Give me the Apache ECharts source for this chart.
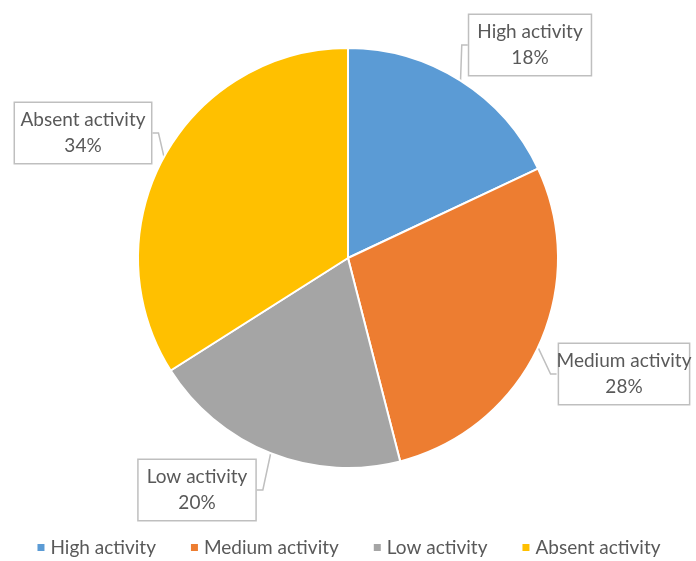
<!DOCTYPE html>
<html>
<head>
<meta charset="utf-8">
<script src="https://cdn.jsdelivr.net/npm/echarts@6/dist/echarts.min.js"></script>
<style>
  html, body { margin: 0; padding: 0; background: #fff; }
  #chart { width: 696px; height: 561px; }
</style>
</head>
<body>
<div id="chart"></div>
<script>
// Share of activity levels
const categories = ['High activity', 'Medium activity', 'Low activity', 'Absent activity'];
const shares = [18, 28, 20, 34];
const colors = ['#5B9BD5', '#ED7D31', '#A5A5A5', '#FFC000'];

// Callout box centres for each slice label
const calloutCentres = [[530, 45], [624, 374], [197, 490], [83, 133]];

const chart = echarts.init(document.getElementById('chart'));
const font = 'Lato, "Open Sans", sans-serif';

chart.setOption({
  animation: false,
  color: colors,
  legend: {
    top: 538,
    left: 'center',
    padding: 0,
    icon: 'rect',
    itemWidth: 9,
    itemHeight: 9,
    itemGap: 33,
    textStyle: { fontFamily: font, fontSize: 19, color: '#595959' },
    data: categories
  },
  series: [{
    type: 'pie',
    center: [348, 258],
    radius: 210,
    startAngle: 90,
    clockwise: true,
    data: categories.map((name, i) => ({ name, value: shares[i] })),
    itemStyle: { borderColor: '#fff', borderWidth: 2 },
    label: {
      show: true,
      position: 'outside',
      overflow: 'none',
      formatter: p => p.name + '\n' + p.value + '%',
      fontFamily: font,
      fontSize: 19,
      lineHeight: 26,
      color: '#595959',
      align: 'center',
      backgroundColor: '#fff',
      borderColor: '#BFBFBF',
      borderWidth: 1.5,
      padding: [4, 8]
    },
    labelLine: {
      show: true,
      length: 8,
      length2: 6,
      lineStyle: { color: '#BFBFBF', width: 1.5 }
    },
    labelLayout: params => {
      const c = calloutCentres[params.dataIndex];
      return { x: c[0], y: c[1], align: 'center', verticalAlign: 'middle' };
    }
  }]
});
</script>
</body>
</html>
